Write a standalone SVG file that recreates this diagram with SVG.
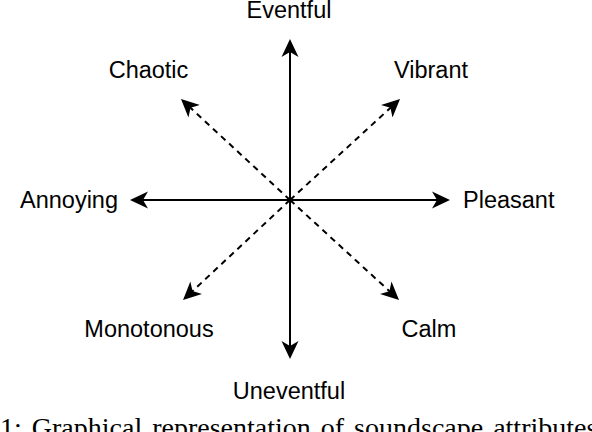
<svg xmlns="http://www.w3.org/2000/svg" width="592" height="432" viewBox="0 0 592 432">
<style>
.lbl{font-family:"Liberation Sans",Arial,sans-serif;font-size:23.5px;fill:#000}
.ax{stroke:#000;stroke-width:2;fill:none}
.dash{stroke-dasharray:6 5}
.cap{font-family:"Liberation Serif","Times New Roman",serif;font-size:28px;fill:#000}
</style>
<defs>
<marker id="ah" viewBox="0 -10 20 20" refX="12" refY="0" markerWidth="20" markerHeight="20" markerUnits="userSpaceOnUse" orient="auto">
<path d="M18,0 L0,-8.5 L5,0 L0,8.5 Z" fill="#000"/>
</marker>
</defs>
<rect width="592" height="432" fill="#fff"/>
<g id="connectors">
<line class="ax" x1="290" y1="200" x2="290" y2="45" marker-end="url(#ah)"/>
<line class="ax" x1="290" y1="200" x2="290" y2="353" marker-end="url(#ah)"/>
<line class="ax" x1="290" y1="200" x2="136" y2="200" marker-end="url(#ah)"/>
<line class="ax" x1="290" y1="200" x2="444" y2="200" marker-end="url(#ah)"/>
<line class="ax dash" x1="290" y1="200" x2="185.4" y2="103.1" marker-end="url(#ah)"/>
<line class="ax dash" x1="290" y1="200" x2="395.6" y2="103.1" marker-end="url(#ah)"/>
<line class="ax dash" x1="290" y1="200" x2="187.4" y2="295.9" marker-end="url(#ah)"/>
<line class="ax dash" x1="290" y1="200" x2="394.6" y2="295.9" marker-end="url(#ah)"/>
</g>
<g id="eventful"><text class="lbl" x="289" y="18" text-anchor="middle">Eventful</text></g>
<g id="uneventful"><text class="lbl" x="289" y="399" text-anchor="middle">Uneventful</text></g>
<g id="annoying"><text class="lbl" x="118" y="208" text-anchor="end">Annoying</text></g>
<g id="pleasant"><text class="lbl" x="463" y="208">Pleasant</text></g>
<g id="chaotic"><text class="lbl" x="148.5" y="78" text-anchor="middle">Chaotic</text></g>
<g id="vibrant"><text class="lbl" x="431" y="78" text-anchor="middle">Vibrant</text></g>
<g id="monotonous"><text class="lbl" x="149" y="337" text-anchor="middle">Monotonous</text></g>
<g id="calm"><text class="lbl" x="429" y="337" text-anchor="middle">Calm</text></g>
<text class="cap" x="0" y="437" word-spacing="3">1: Graphical representation of soundscape attributes</text>
</svg>
